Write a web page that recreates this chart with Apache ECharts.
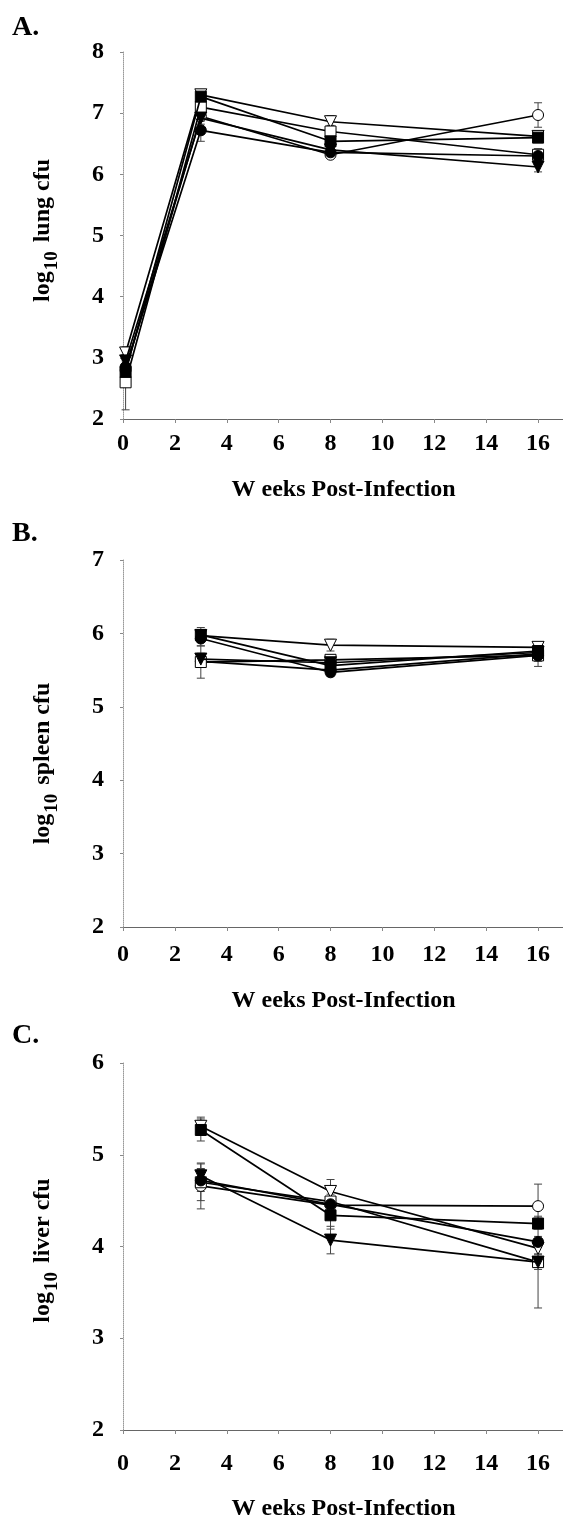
<!DOCTYPE html>
<html>
<head>
<meta charset="utf-8">
<script src="https://cdn.jsdelivr.net/npm/echarts@6/dist/echarts.min.js"></script>
<style>
html,body{margin:0;padding:0;background:#fff;}
#chart{width:563px;height:1520px;}
</style>
</head>
<body>
<div id="chart"></div>
<script>
// ---- data ----
const markerKinds = ['open triangle', 'open circle', 'open square', 'filled circle', 'filled triangle', 'filled square'];
const xTickValues = [0, 2, 4, 6, 8, 10, 12, 14, 16];
const yTicksLung = [2, 3, 4, 5, 6, 7, 8];
const yTicksSpleen = [2, 3, 4, 5, 6, 7];
const yTicksLiver = [2, 3, 4, 5, 6];

const lungWeeks = [0.1, 3, 8, 16];
const lungMeans = [
  [3.08, 7.30, 6.86, 6.62],  // open triangle
  [2.80, 6.95, 6.32, 6.97],  // open circle
  [2.60, 7.10, 6.70, 6.32],  // open square
  [2.85, 6.72, 6.36, 6.30],  // filled circle
  [2.95, 6.92, 6.40, 6.12],  // filled triangle
  [2.77, 7.27, 6.54, 6.60]   // filled square
];
const lungSD = [
  [0.10, 0.08, 0.10, 0.08],
  [0.10, 0.08, 0.06, 0.20],
  [0.45, 0.08, 0.10, 0.10],
  [0.10, 0.18, 0.05, 0.06],
  [0.10, 0.10, 0.05, 0.08],
  [0.10, 0.05, 0.06, 0.08]
];

const spleenWeeks = [3, 8, 16];
const spleenMeans = [
  [5.97, 5.84, 5.81],
  [5.62, 5.50, 5.72],
  [5.61, 5.64, 5.70],
  [5.93, 5.47, 5.70],
  [5.65, 5.60, 5.74],
  [5.98, 5.56, 5.76]
];
const spleenSD = [
  [0.08, 0.08, 0.06],
  [0.08, 0.05, 0.08],
  [0.22, 0.07, 0.15],
  [0.10, 0.05, 0.08],
  [0.08, 0.05, 0.06],
  [0.10, 0.06, 0.08]
];

const liverWeeks = [3, 8, 16];
const liverMeans = [
  [5.31, 4.60, 3.98],
  [4.66, 4.45, 4.44],
  [4.70, 4.49, 3.83],
  [4.72, 4.46, 4.05],
  [4.77, 4.07, 3.83],
  [5.27, 4.34, 4.25]
];
const liverSD = [
  [0.10, 0.13, 0.06],
  [0.25, 0.06, 0.24],
  [0.20, 0.08, 0.50],
  [0.12, 0.06, 0.06],
  [0.08, 0.15, 0.08],
  [0.12, 0.15, 0.06]
];

// ---- styling ----
const FONT = '"Liberation Serif", "Times New Roman", serif';
const symbolFor = {
  'open triangle':   { symbol: 'triangle', rotate: 180, fill: '#fff', size: 12 },
  'open circle':     { symbol: 'circle',   rotate: 0,   fill: '#fff', size: 11 },
  'open square':     { symbol: 'rect',     rotate: 0,   fill: '#fff', size: 11 },
  'filled circle':   { symbol: 'circle',   rotate: 0,   fill: '#000', size: 11 },
  'filled triangle': { symbol: 'triangle', rotate: 180, fill: '#000', size: 12 },
  'filled square':   { symbol: 'rect',     rotate: 0,   fill: '#000', size: 11 }
};

const panels = [
  { weeks: lungWeeks, means: lungMeans, sd: lungSD, ymin: 2, ymax: 8, top: 52, organ: 'lung', letter: 'A.', letterTop: 14,
    labelMargin: 13, titleGap: 59, namePad: [0, 0, 0, 10] },
  { weeks: spleenWeeks, means: spleenMeans, sd: spleenSD, ymin: 2, ymax: 7, top: 560, organ: 'spleen', letter: 'B.', letterTop: 520,
    labelMargin: 16, titleGap: 62, namePad: [0, 40, 0, 0] },
  { weeks: liverWeeks, means: liverMeans, sd: liverSD, ymin: 2, ymax: 6, top: 1063, organ: 'liver', letter: 'C.', letterTop: 1022,
    labelMargin: 22, titleGap: 67, namePad: [0, 8, 0, 0] }
];

const grids = [], xAxes = [], yAxes = [], series = [], graphics = [];
panels.forEach((p, pi) => {
  grids.push({ left: 123, top: p.top, width: 441, height: 367, containLabel: false, outerBoundsMode: 'none' });
  xAxes.push({
    type: 'value', gridIndex: pi, min: 0, max: 17, interval: 2,
    name: 'W eeks Post-Infection', nameLocation: 'middle', nameGap: p.titleGap,
    nameTextStyle: { fontFamily: FONT, fontWeight: 'bold', fontSize: 24, color: '#000' },
    axisLine: { show: true, lineStyle: { color: '#666', width: 1 } },
    axisTick: { show: true, length: 4, lineStyle: { color: '#888' }, customValues: xTickValues },
    axisLabel: { fontFamily: FONT, fontWeight: 'bold', fontSize: 24, color: '#000', margin: p.labelMargin, customValues: xTickValues },
    splitLine: { show: false }
  });
  yAxes.push({
    type: 'value', gridIndex: pi, min: p.ymin, max: p.ymax, interval: 1,
    name: '{m|log}{s|10}{m| ' + p.organ + ' cfu}', nameLocation: 'middle', nameRotate: 90, nameGap: 59,
    nameTextStyle: {
      padding: p.namePad,
      rich: {
        m: { fontFamily: FONT, fontWeight: 'bold', fontSize: 24, color: '#000', lineHeight: 24, padding: [0, 0, 18, 0] },
        s: { fontFamily: FONT, fontWeight: 'bold', fontSize: 19, color: '#000', lineHeight: 24, padding: [0, 3, 0, 1] }
      }
    },
    axisLine: { show: true, lineStyle: { color: '#999', width: 1, type: 'dotted' } },
    axisTick: { show: true, length: 3, lineStyle: { color: '#888' } },
    axisLabel: { fontFamily: FONT, fontWeight: 'bold', fontSize: 24, color: '#000', margin: 19 },
    splitLine: { show: false }
  });
  // error bars
  const errData = [];
  p.means.forEach((row, si) => row.forEach((v, wi) => errData.push([p.weeks[wi], v, p.sd[si][wi]])));
  series.push({
    type: 'custom', xAxisIndex: pi, yAxisIndex: pi, z: 1, silent: true,
    encode: { x: 0, y: 1 },
    data: errData,
    renderItem: function (params, api) {
      const x = api.value(0), m = api.value(1), s = api.value(2);
      const t = api.coord([x, m + s]), b = api.coord([x, m - s]);
      const w = 4;
      const st = { stroke: '#444', lineWidth: 1 };
      return { type: 'group', children: [
        { type: 'line', shape: { x1: t[0], y1: t[1], x2: b[0], y2: b[1] }, style: st },
        { type: 'line', shape: { x1: t[0] - w, y1: t[1], x2: t[0] + w, y2: t[1] }, style: st },
        { type: 'line', shape: { x1: b[0] - w, y1: b[1], x2: b[0] + w, y2: b[1] }, style: st }
      ] };
    }
  });
  p.means.forEach((row, si) => {
    const k = symbolFor[markerKinds[si]];
    series.push({
      type: 'line', name: markerKinds[si], xAxisIndex: pi, yAxisIndex: pi, z: 3 + si,
      data: row.map((v, wi) => [p.weeks[wi], v]),
      symbol: k.symbol, symbolSize: k.size, symbolRotate: k.rotate, showAllSymbol: true,
      lineStyle: { color: '#000', width: 1.7 },
      itemStyle: { color: k.fill, borderColor: '#000', borderWidth: 1 },
      emphasis: { disabled: true }
    });
  });
  graphics.push({ type: 'text', left: 12, top: p.letterTop, style: { text: p.letter, font: 'bold 28px ' + FONT, fill: '#000' } });
});

const chart = echarts.init(document.getElementById('chart'), null, { renderer: 'canvas' });
chart.setOption({
  animation: false,
  backgroundColor: '#fff',
  grid: grids, xAxis: xAxes, yAxis: yAxes, series: series, graphic: graphics
});
</script>
</body>
</html>
